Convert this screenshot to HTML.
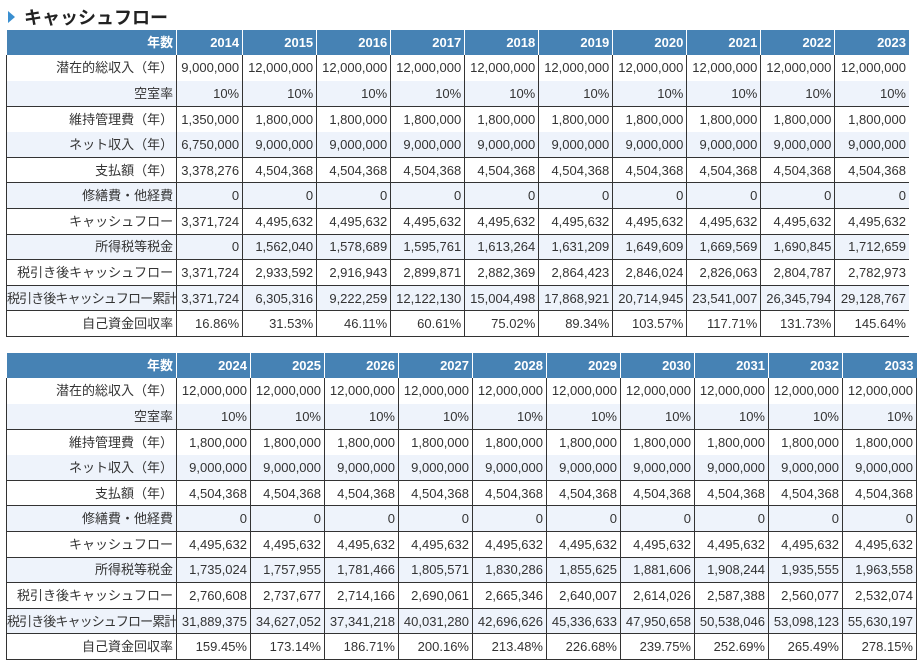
<!DOCTYPE html>
<html><head><meta charset="utf-8"><style>
html,body{margin:0;padding:0;background:#fff;width:924px;height:666px;overflow:hidden}
body{font-family:"Liberation Sans","Noto Sans CJK JP",sans-serif;font-size:13px;color:#333;position:relative}
.title{position:absolute;left:8px;top:4px;font-size:18px;font-weight:bold;color:#222;display:flex;align-items:center}
.tri{width:0;height:0;border-top:6px solid transparent;border-bottom:6px solid transparent;border-left:7px solid #3a8fd0;margin-right:9px}
table{position:absolute;left:6px;border-collapse:collapse;table-layout:fixed}
td,th{padding:0 3px 0 0;text-align:right;white-space:nowrap;overflow:hidden;border-left:1px solid #333;line-height:1;box-sizing:border-box}
th{background:#4682b4;color:#fff;font-weight:bold;border-left:1px solid #fff;height:25px}
th:first-child{border-left:none}
td:first-child{border-left:1px solid #333}
tr.e td{background:#eef3fb}
tr.b td{border-top:1px solid #333}
tr td{height:25.6px}
#t1{top:30px;width:903px}
#t2{top:353px;width:910px;}
#t2 td:last-child{border-right:1px solid #333}
tr.last td{border-bottom:1px solid #333}
.n{letter-spacing:-0.9px;padding-right:2px}
</style></head><body>
<div class="title"><div class="tri"></div>キャッシュフロー</div>
<table id="t1">
<colgroup><col style="width:170px"><col style="width:66px"><col style="width:74px"><col style="width:74px"><col style="width:74px"><col style="width:74px"><col style="width:74px"><col style="width:74px"><col style="width:74px"><col style="width:74px"><col style="width:74px"></colgroup>
<tr><th>年数</th><th>2014</th><th>2015</th><th>2016</th><th>2017</th><th>2018</th><th>2019</th><th>2020</th><th>2021</th><th>2022</th><th>2023</th></tr>
<tr><td>潜在的総収入（年）</td><td>9,000,000</td><td>12,000,000</td><td>12,000,000</td><td>12,000,000</td><td>12,000,000</td><td>12,000,000</td><td>12,000,000</td><td>12,000,000</td><td>12,000,000</td><td>12,000,000</td></tr>
<tr class="e"><td>空室率</td><td>10%</td><td>10%</td><td>10%</td><td>10%</td><td>10%</td><td>10%</td><td>10%</td><td>10%</td><td>10%</td><td>10%</td></tr>
<tr class="b"><td>維持管理費（年）</td><td>1,350,000</td><td>1,800,000</td><td>1,800,000</td><td>1,800,000</td><td>1,800,000</td><td>1,800,000</td><td>1,800,000</td><td>1,800,000</td><td>1,800,000</td><td>1,800,000</td></tr>
<tr class="e"><td>ネット収入（年）</td><td>6,750,000</td><td>9,000,000</td><td>9,000,000</td><td>9,000,000</td><td>9,000,000</td><td>9,000,000</td><td>9,000,000</td><td>9,000,000</td><td>9,000,000</td><td>9,000,000</td></tr>
<tr class="b"><td>支払額（年）</td><td>3,378,276</td><td>4,504,368</td><td>4,504,368</td><td>4,504,368</td><td>4,504,368</td><td>4,504,368</td><td>4,504,368</td><td>4,504,368</td><td>4,504,368</td><td>4,504,368</td></tr>
<tr class="b e"><td>修繕費・他経費</td><td>0</td><td>0</td><td>0</td><td>0</td><td>0</td><td>0</td><td>0</td><td>0</td><td>0</td><td>0</td></tr>
<tr class="b"><td>キャッシュフロー</td><td>3,371,724</td><td>4,495,632</td><td>4,495,632</td><td>4,495,632</td><td>4,495,632</td><td>4,495,632</td><td>4,495,632</td><td>4,495,632</td><td>4,495,632</td><td>4,495,632</td></tr>
<tr class="b e"><td>所得税等税金</td><td>0</td><td>1,562,040</td><td>1,578,689</td><td>1,595,761</td><td>1,613,264</td><td>1,631,209</td><td>1,649,609</td><td>1,669,569</td><td>1,690,845</td><td>1,712,659</td></tr>
<tr class="b"><td>税引き後キャッシュフロー</td><td>3,371,724</td><td>2,933,592</td><td>2,916,943</td><td>2,899,871</td><td>2,882,369</td><td>2,864,423</td><td>2,846,024</td><td>2,826,063</td><td>2,804,787</td><td>2,782,973</td></tr>
<tr class="b e"><td class="n">税引き後キャッシュフロー累計</td><td>3,371,724</td><td>6,305,316</td><td>9,222,259</td><td>12,122,130</td><td>15,004,498</td><td>17,868,921</td><td>20,714,945</td><td>23,541,007</td><td>26,345,794</td><td>29,128,767</td></tr>
<tr class="b last"><td>自己資金回収率</td><td>16.86%</td><td>31.53%</td><td>46.11%</td><td>60.61%</td><td>75.02%</td><td>89.34%</td><td>103.57%</td><td>117.71%</td><td>131.73%</td><td>145.64%</td></tr>
</table>
<table id="t2">
<colgroup><col style="width:170px"><col style="width:74px"><col style="width:74px"><col style="width:74px"><col style="width:74px"><col style="width:74px"><col style="width:74px"><col style="width:74px"><col style="width:74px"><col style="width:74px"><col style="width:74px"></colgroup>
<tr><th>年数</th><th>2024</th><th>2025</th><th>2026</th><th>2027</th><th>2028</th><th>2029</th><th>2030</th><th>2031</th><th>2032</th><th>2033</th></tr>
<tr><td>潜在的総収入（年）</td><td>12,000,000</td><td>12,000,000</td><td>12,000,000</td><td>12,000,000</td><td>12,000,000</td><td>12,000,000</td><td>12,000,000</td><td>12,000,000</td><td>12,000,000</td><td>12,000,000</td></tr>
<tr class="e"><td>空室率</td><td>10%</td><td>10%</td><td>10%</td><td>10%</td><td>10%</td><td>10%</td><td>10%</td><td>10%</td><td>10%</td><td>10%</td></tr>
<tr class="b"><td>維持管理費（年）</td><td>1,800,000</td><td>1,800,000</td><td>1,800,000</td><td>1,800,000</td><td>1,800,000</td><td>1,800,000</td><td>1,800,000</td><td>1,800,000</td><td>1,800,000</td><td>1,800,000</td></tr>
<tr class="e"><td>ネット収入（年）</td><td>9,000,000</td><td>9,000,000</td><td>9,000,000</td><td>9,000,000</td><td>9,000,000</td><td>9,000,000</td><td>9,000,000</td><td>9,000,000</td><td>9,000,000</td><td>9,000,000</td></tr>
<tr class="b"><td>支払額（年）</td><td>4,504,368</td><td>4,504,368</td><td>4,504,368</td><td>4,504,368</td><td>4,504,368</td><td>4,504,368</td><td>4,504,368</td><td>4,504,368</td><td>4,504,368</td><td>4,504,368</td></tr>
<tr class="b e"><td>修繕費・他経費</td><td>0</td><td>0</td><td>0</td><td>0</td><td>0</td><td>0</td><td>0</td><td>0</td><td>0</td><td>0</td></tr>
<tr class="b"><td>キャッシュフロー</td><td>4,495,632</td><td>4,495,632</td><td>4,495,632</td><td>4,495,632</td><td>4,495,632</td><td>4,495,632</td><td>4,495,632</td><td>4,495,632</td><td>4,495,632</td><td>4,495,632</td></tr>
<tr class="b e"><td>所得税等税金</td><td>1,735,024</td><td>1,757,955</td><td>1,781,466</td><td>1,805,571</td><td>1,830,286</td><td>1,855,625</td><td>1,881,606</td><td>1,908,244</td><td>1,935,555</td><td>1,963,558</td></tr>
<tr class="b"><td>税引き後キャッシュフロー</td><td>2,760,608</td><td>2,737,677</td><td>2,714,166</td><td>2,690,061</td><td>2,665,346</td><td>2,640,007</td><td>2,614,026</td><td>2,587,388</td><td>2,560,077</td><td>2,532,074</td></tr>
<tr class="b e"><td class="n">税引き後キャッシュフロー累計</td><td>31,889,375</td><td>34,627,052</td><td>37,341,218</td><td>40,031,280</td><td>42,696,626</td><td>45,336,633</td><td>47,950,658</td><td>50,538,046</td><td>53,098,123</td><td>55,630,197</td></tr>
<tr class="b last"><td>自己資金回収率</td><td>159.45%</td><td>173.14%</td><td>186.71%</td><td>200.16%</td><td>213.48%</td><td>226.68%</td><td>239.75%</td><td>252.69%</td><td>265.49%</td><td>278.15%</td></tr>
</table>
</body></html>
